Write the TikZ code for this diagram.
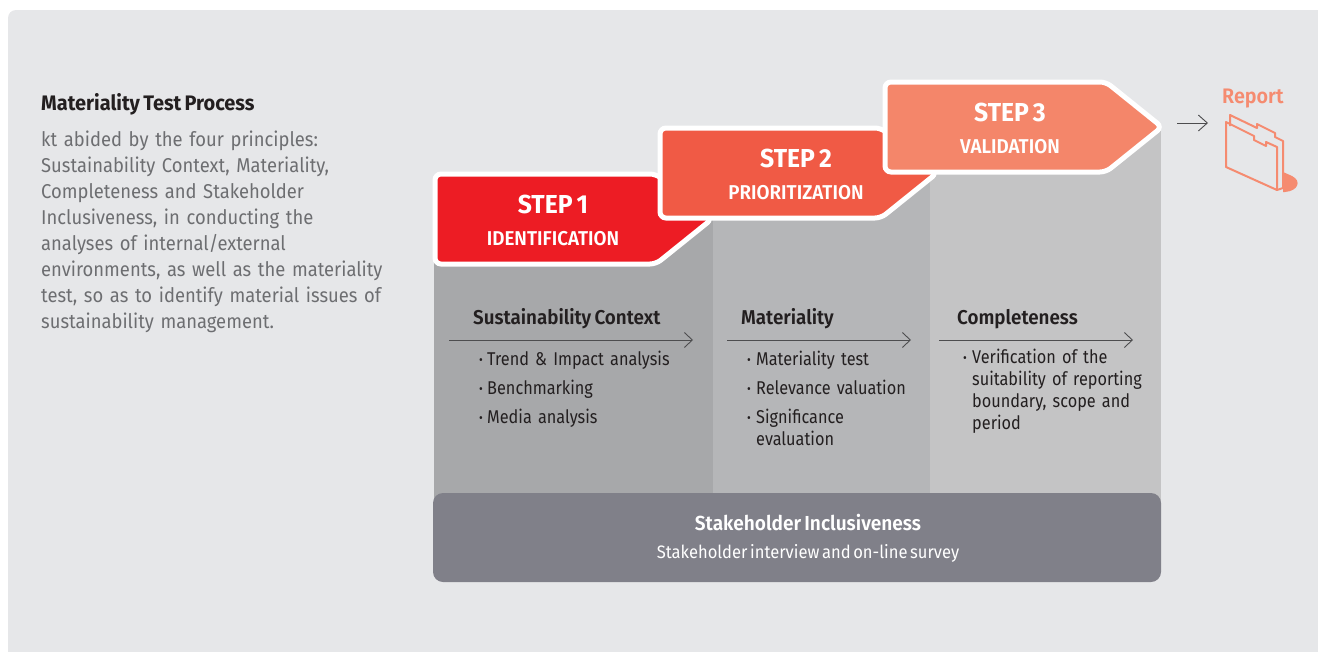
\documentclass[tikz,border=0pt]{standalone}
\usepackage{fontspec}
\setmainfont{Fira Sans}[FakeStretch=0.88,WordSpace=0.65]
\newfontfamily\fbody{Fira Sans}[FakeStretch=0.92,WordSpace=0.6]
\newfontfamily\fsemi{Fira Sans SemiBold}[FakeStretch=0.94,WordSpace=0.7]
\newfontfamily\fbold{Fira Sans Bold}[FakeStretch=0.95,WordSpace=0.7]
\usetikzlibrary{arrows.meta}

\definecolor{bgcol}{HTML}{E6E7E9}
\definecolor{colone}{HTML}{A7A8AA}
\definecolor{coltwo}{HTML}{B5B6B8}
\definecolor{colthree}{HTML}{C4C4C5}
\definecolor{stakecol}{HTML}{808089}
\definecolor{stepone}{HTML}{ED1C24}
\definecolor{steptwo}{HTML}{F05A45}
\definecolor{stepthree}{HTML}{F4866A}
\definecolor{reportcol}{HTML}{F58B70}
\definecolor{darktext}{HTML}{231F20}
\definecolor{bodycol}{HTML}{6D6E71}
\definecolor{arrcol}{HTML}{4D4D4F}

\newcommand\bul[1][8pt]{\makebox[#1][l]{\raisebox{1pt}{\fontsize{13}{13}\selectfont\textbullet}}}

\begin{document}
\begin{tikzpicture}[x=1pt,y=-1pt,
	stepbox/.style={draw=white,line width=5pt,rounded corners=6pt},
	steptitle/.style={anchor=base,inner sep=0,text=white,font=\fbold\fontsize{26}{26}\selectfont},
	stepsub/.style={anchor=base,inner sep=0,text=white,font=\fsemi\fontsize{20}{20}\selectfont},
	colhead/.style={anchor=base west,inner sep=0,text=darktext,font=\fsemi\fontsize{20}{20}\selectfont},
	collist/.style={anchor=base west,inner sep=0,text width=210pt,align=left,text=darktext,font=\fontsize{18.5}{22}\selectfont},
	arr/.style={draw=arrcol,line width=0.9pt,-{Straight Barb[length=8pt,width=15pt]}}]

	\useasboundingbox (0,0) rectangle (1318,651);
	\fill[bgcol,rounded corners=8pt] (8,10) rectangle (1340,670);

	% intro
	\node[anchor=base west,inner sep=0,text=darktext,font=\fbold\fontsize{21}{21}\selectfont] (title) at (41,110) {Materiality Test Process};
	\node[anchor=base west,inner sep=0,text width=400pt,align=left,text=bodycol,font=\fbody\fontsize{20}{26}\selectfont] (intro) at (41,146.7)
		{kt abided by the four principles:\\ Sustainability Context, Materiality,\\ Completeness and Stakeholder\\ Inclusiveness, in conducting the\\ analyses of internal/external\\ environments, as well as the materiality\\ test, so as to identify material issues of\\ sustainability management.};

	% columns
	\fill[colone] (434,219) rectangle (713,505);
	\fill[coltwo] (713,172) rectangle (930,505);
	\fill[colthree] (930,127) rectangle (1161,505);

	% steps
	\foreach \n/\x/\y/\tx/\col/\sub in {1/435/174/553/stepone/IDENTIFICATION,2/660/128/796/steptwo/PRIORITIZATION,3/885/82/1010/stepthree/VALIDATION} {
		\draw[stepbox,fill=\col] (\x,\y) -- ++(221,0) -- ++(56,45) -- ++(-56,45) -- ++(-221,0) -- cycle;
		\node[steptitle] (step\n) at (\tx,\y+39) {STEP \n};
		\node[stepsub] (sub\n) at (\tx,\y+71) {\sub};
	}

	% principles
	\node[colhead] (context) at (473,324) {Sustainability Context};
	\node[colhead] (materiality) at (741,324) {Materiality};
	\node[colhead] (completeness) at (957,324) {Completeness};

	\coordinate (ctx-a) at (449,340); \coordinate (ctx-b) at (693,340);
	\coordinate (mat-a) at (727,340); \coordinate (mat-b) at (911,340);
	\coordinate (com-a) at (939,340); \coordinate (com-b) at (1133,340);
	\draw[arr] (ctx-a) -- (ctx-b);
	\draw[arr] (mat-a) -- (mat-b);
	\draw[arr] (com-a) -- (com-b);

	\node[collist] (ctxlist) at (479,365) {\bul Trend \& Impact analysis\\[7pt] \bul Benchmarking\\[7pt] \bul Media analysis};
	\node[collist] (matlist) at (747,365) {\bul[9pt]Materiality test\\[7pt] \bul[9pt]Relevance valuation\\[7pt] \bul[9pt]Significance\\ \hspace*{9pt}evaluation};
	\node[collist] (comlist) at (963,363) {\bul[9pt]Verification of the\\ \hspace*{9pt}suitability of reporting\\ \hspace*{9pt}boundary, scope and\\ \hspace*{9pt}period};

	% stakeholder
	\node[fill=stakecol,rounded corners=10pt,minimum width=728pt,minimum height=89pt,inner sep=0] (stake) at (797,537.5) {};
	\node[anchor=base,inner sep=0,text=white,font=\fsemi\fontsize{20.3}{20.3}\selectfont] (staketitle) at (808,530) {Stakeholder Inclusiveness};
	\node[anchor=base,inner sep=0,text=white,font=\fbody\fontsize{18}{18}\selectfont] (stakesub) at (808,558) {Stakeholder interview and on-line survey};

	% report
	\node[anchor=base west,inner sep=0,text=reportcol,font=\fsemi\fontsize{21}{21}\selectfont] (report) at (1222,103) {Report};
	\coordinate (rep-a) at (1177,123); \coordinate (rep-b) at (1208,123);
	\draw[arr,-{Straight Barb[length=9pt,width=16pt]}] (rep-a) -- (rep-b);
	\draw[reportcol,line width=2pt,line join=round] (1230,126) -- (1230,115) -- (1257,128) -- (1257,124) -- (1275,133) -- (1275,137) -- (1283,141) -- (1283,188) -- (1277,190);
	\draw[reportcol,line width=2pt,line join=round] (1226,122) -- (1254,136) -- (1254,140) -- (1266,146) -- (1266,142) -- (1277,147) -- (1277,190) -- (1226,167) -- cycle;
	\fill[reportcol] (1283,172) -- (1292,176) .. controls (1302,181) and (1298,191) .. (1285,192) -- (1283,192) -- cycle;
\end{tikzpicture}
\end{document}
